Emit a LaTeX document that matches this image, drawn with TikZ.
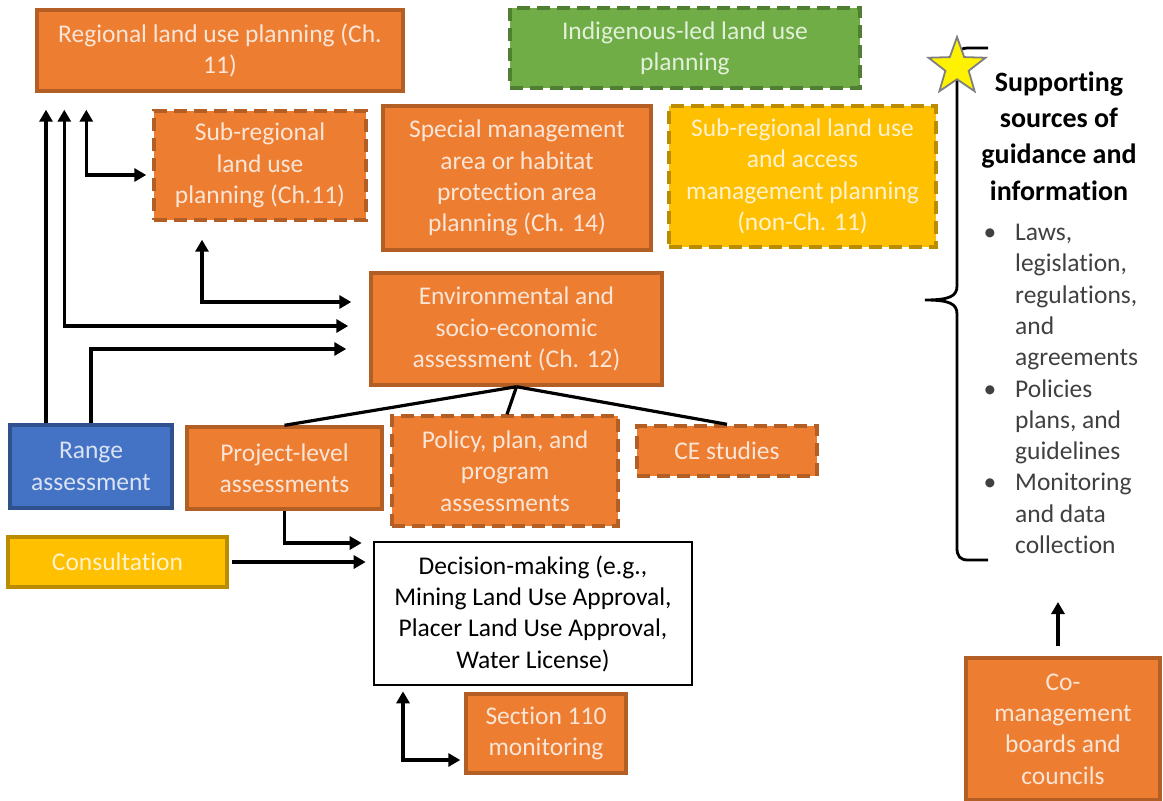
\documentclass[tikz,border=0pt]{standalone}
\usepackage{fontspec}
\setmainfont{Carlito}[Ligatures={NoCommon}]
\usetikzlibrary{arrows.meta,shapes.geometric}
\definecolor{orfill}{HTML}{ED7D31}
\definecolor{ordraw}{HTML}{B35E24}
\definecolor{ortext}{HTML}{FBE5D6}
\definecolor{grfill}{HTML}{70AD47}
\definecolor{grdraw}{HTML}{507E32}
\definecolor{grtext}{HTML}{E2F0D9}
\definecolor{yefill}{HTML}{FFC000}
\definecolor{yedraw}{HTML}{BC8C00}
\definecolor{yetext}{HTML}{FFF2CC}
\definecolor{blfill}{HTML}{4472C4}
\definecolor{bldraw}{HTML}{2F528F}
\definecolor{bltext}{HTML}{DAE3F3}
\definecolor{bodytext}{HTML}{404040}
\definecolor{stargray}{HTML}{7F7F7F}
\begin{document}
\begin{tikzpicture}[x=1pt,y=-1pt,
  base/.style={rectangle,inner sep=0pt,align=center,line width=3.4pt,
    font=\fontsize{25.5}{31.3}\selectfont},
  orbox/.style={base,fill=orfill,draw=ordraw,text=ortext},
  dashedge/.style={dash pattern=on 13pt off 7pt},
  grbox/.style={base,fill=grfill,draw=grdraw,text=grtext,dashedge},
  yebox/.style={base,fill=yefill,draw=yedraw,text=yetext},
  blbox/.style={base,fill=blfill,draw=bldraw,text=bltext},
  whbox/.style={base,fill=white,draw=black,text=black,line width=2.6pt},
  tip/.tip={Triangle[length=12pt,width=13pt]},
  arr/.style={line width=3.2pt,-tip},
  dblarr/.style={line width=3.2pt,tip-tip},
  link/.style={line width=3.2pt}]
\useasboundingbox (0,0) rectangle (1163,801);

% planning boxes
\node[orbox,minimum width=366pt,minimum height=81pt] (regional) at (220,50.5)
  {Regional land use planning (Ch.\\11)};
\node[grbox,minimum width=350pt,minimum height=80pt] (indig) at (685,48)
  {Indigenous-led land use\\planning};
\node[orbox,dashedge,minimum width=212pt,minimum height=109pt] (subreg) at (260,165.5)
  {Sub-regional\\land use\\planning (Ch.11)};
\node[orbox,minimum width=268pt,minimum height=144pt] (special) at (517,178)
  {Special management\\area or habitat\\protection area\\planning (Ch. 14)};
\node[yebox,dashedge,minimum width=267pt,minimum height=141pt] (access) at (802.5,176.5)
  {Sub-regional land use\\and access\\management planning\\(non-Ch. 11)};

% assessment boxes
\node[orbox,minimum width=291pt,minimum height=112pt] (env) at (516.5,329)
  {Environmental and\\socio-economic\\assessment (Ch. 12)};
\node[blbox,minimum width=162pt,minimum height=83pt] (range) at (91,466.5)
  {Range\\assessment};
\node[orbox,minimum width=195pt,minimum height=82pt] (project) at (284.5,468)
  {Project-level\\assessments};
\node[orbox,dashedge,minimum width=226pt,minimum height=110pt] (policy) at (505,471)
  {Policy, plan, and\\program\\assessments};
\node[orbox,dashedge,minimum width=180pt,minimum height=50pt] (ce) at (727,451)
  {CE studies};

% decision boxes
\node[yebox,minimum width=219pt,minimum height=50pt] (consult) at (117.5,562)
  {Consultation};
\node[whbox,minimum width=318pt,minimum height=143pt] (decision) at (533,613.5)
  {Decision-making (e.g.,\\Mining Land Use Approval,\\Placer Land Use Approval,\\Water License)};
\node[orbox,minimum width=160pt,minimum height=79pt] (sec110) at (546,733.5)
  {Section 110\\monitoring};
\node[orbox,minimum width=194pt,minimum height=142pt] (comgmt) at (1063,729)
  {Co-\\management\\boards and\\councils};

% links into regional planning
\draw[arr,shorten >=17pt] ([xshift=-45pt]range.north) -- ([xshift=-45pt]range.north |- regional.south);
\draw[arr,shorten >=23pt] (range.north) |- ([yshift=-20pt]env.west);
\draw[dblarr,shorten <=17pt,shorten >=21pt] ([xshift=29pt]regional.south west) |- ([yshift=3pt]env.west);
\draw[dblarr,shorten <=17pt,shorten >=6pt] ([xshift=51pt]regional.south west) |- ([yshift=-9.5pt]subreg.west);
\draw[dblarr,shorten <=18pt,shorten >=18pt] ([xshift=-58pt]subreg.south) |- ([yshift=27pt]env.west);

% assessment tree
\draw[link] (env.south) -- (project.north);
\draw[link] (env.south) -- ([xshift=2pt]policy.north);
\draw[link] (env.south) -- (ce.north);

% links into decision-making
\draw[arr,shorten >=11pt] (project.south) |- ([yshift=70.5pt]decision.west);
\draw[arr,shorten <=3pt,shorten >=7pt] (consult.east) -- (consult.east -| decision.west);
\draw[dblarr,shorten <=5pt,shorten >=4pt] ([xshift=-130pt]decision.south) |- ([yshift=-26.5pt]sec110.west);

% supporting sources brace
\coordinate (bracetop) at (988,48);
\coordinate (bracebot) at (988,560);
\coordinate (bracetip) at (925,300);
\draw[line width=2.8pt] (bracetop) -- (968,48) .. controls (960,48) and (957,52) .. (957,60)
  -- (957,286) .. controls (957,296) and (950,300) .. (bracetip)
  .. controls (950,300) and (957,304) .. (957,314)
  -- (957,548) .. controls (957,556) and (960,560) .. (968,560) -- (bracebot);
\node[star,star points=5,star point ratio=2.45,minimum size=60pt,inner sep=0pt,
  fill=yellow,draw=stargray,line width=1.8pt] (star) at (957,67) {};

\node[align=center,font=\fontsize{28}{36.2}\selectfont\bfseries,text=black] (heading) at (1059,136)
  {Supporting\\sources of\\guidance and\\information};
\node[align=left,anchor=north west,inner sep=0pt,text=bodytext,
  font=\fontsize{25.5}{31.3}\selectfont] (sources) at (1015,224)
  {\llap{\textbullet\hspace{19pt}}Laws,\\legislation,\\regulations,\\and\\agreements\\
   \llap{\textbullet\hspace{19pt}}Policies\\plans, and\\guidelines\\
   \llap{\textbullet\hspace{19pt}}Monitoring\\and data\\collection};

\draw[arr,shorten <=10pt,shorten >=42pt] ([xshift=-5pt]comgmt.north) -- ([xshift=-5pt]comgmt.north |- bracebot);
\end{tikzpicture}
\end{document}
